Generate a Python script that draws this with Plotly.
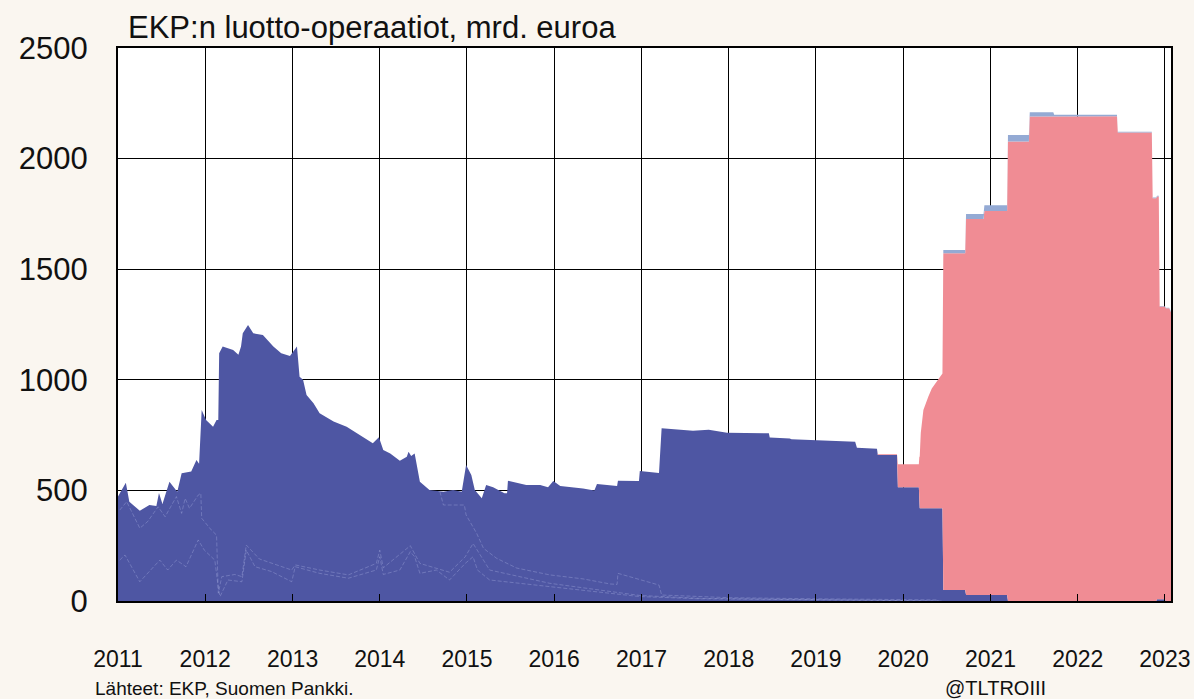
import numpy as np
import pandas as pd
import plotly.graph_objects as go

# ---------------- data (decimal years, bn EUR) ----------------
# Other credit operations (MRO, LTRO, TLTRO I-II ...) - dark blue
t_blue = [2011.00, 2011.09, 2011.13, 2011.25, 2011.36, 2011.44, 2011.47, 2011.51, 2011.59, 2011.68,
          2011.73, 2011.84, 2011.90, 2011.93, 2011.96, 2012.01, 2012.09, 2012.13, 2012.15, 2012.16,
          2012.20, 2012.32, 2012.38, 2012.41, 2012.43, 2012.49, 2012.55, 2012.66, 2012.78, 2012.87,
          2012.97, 2013.01, 2013.05, 2013.08, 2013.12, 2013.16, 2013.24, 2013.31, 2013.47, 2013.62,
          2013.77, 2013.92, 2013.99, 2014.04, 2014.12, 2014.23, 2014.31, 2014.33, 2014.36, 2014.40,
          2014.46, 2014.57, 2014.73, 2014.84, 2014.94, 2014.99, 2015.05, 2015.09, 2015.17, 2015.22,
          2015.30, 2015.43, 2015.46, 2015.47, 2015.68, 2015.84, 2015.93, 2015.99, 2016.07, 2016.22,
          2016.33, 2016.46, 2016.49, 2016.72, 2016.73, 2016.95, 2016.97, 2016.98, 2017.20, 2017.23,
          2017.59, 2017.77, 2017.98, 2018.44, 2018.46, 2018.47, 2018.70, 2018.72, 2018.99, 2019.45,
          2019.47, 2019.70, 2019.71, 2019.93, 2019.94, 2020.18, 2020.19, 2020.45, 2020.46, 2020.71,
          2020.72, 2021.19, 2021.20, 2022.90, 2022.91, 2023.00, 2023.01, 2023.10]
blue = [472, 535, 449, 408, 434, 429, 488, 438, 539, 494,
        577, 585, 637, 620, 863, 818, 788, 818, 818, 1120,
        1150, 1135, 1113, 1150, 1210, 1248, 1210, 1203, 1150, 1120,
        1108, 1128, 1150, 1014, 1000, 931, 894, 849, 811, 788,
        750, 713, 740, 683, 667, 634, 652, 675, 655, 667,
        539, 502, 494, 502, 494, 615, 570, 502, 464, 524,
        514, 487, 487, 544, 524, 524, 514, 542, 520, 514,
        509, 499, 529, 520, 544, 542, 542, 588, 579, 781,
        770, 774, 761, 758, 758, 739, 735, 731, 728, 720,
        693, 688, 660, 660, 514, 514, 419, 419, 50, 50,
        27, 27, 0, 0, 8, 8, 0, 0]

# TLTRO III - pink
t_tltro3 = [2011.00, 2019.70, 2019.71, 2019.93, 2019.94, 2020.18, 2020.186, 2020.202, 2020.232, 2020.289,
            2020.328, 2020.385, 2020.443, 2020.45, 2020.46, 2020.71, 2020.72, 2020.92, 2020.93, 2021.19,
            2021.20, 2021.44, 2021.45, 2021.72, 2021.73, 2022.45, 2022.46, 2022.85, 2022.86, 2022.93,
            2022.94, 2023.05, 2023.10]
tltro3 = [0, 0, 3, 3, 104, 104, 196, 340, 444, 505,
          542, 573, 610, 610, 1522, 1522, 1700, 1700, 1736, 1736,
          2077, 2077, 2190, 2190, 2192, 2192, 2118, 2118, 1821, 1821,
          1323, 1323, 1280]

# Other (top layer) - light blue
t_other = [2011.00, 2020.45, 2020.46, 2020.71, 2020.72, 2020.92, 2020.93, 2021.19, 2021.20, 2021.44,
           2021.45, 2021.72, 2021.73, 2022.45, 2022.46, 2023.10]
other = [0, 0, 15, 15, 23, 23, 26, 26, 30, 30,
         19, 19, 6, 6, 3, 3]

# faint boundary lines inside the blue area
t_line_low = [2011.02, 2011.08, 2011.25, 2011.34, 2011.48, 2011.57, 2011.67, 2011.78, 2011.92, 2011.99,
              2012.11, 2012.15, 2012.17, 2012.26, 2012.42, 2012.47, 2012.57, 2012.76, 2012.99, 2013.03,
              2013.31, 2013.64, 2013.96, 2014.00, 2014.04, 2014.23, 2014.35, 2014.40, 2014.46, 2014.65,
              2014.80, 2014.98, 2015.07, 2015.12, 2015.26, 2015.95, 2016.64, 2016.98, 2017.67, 2018.82,
              2019.96, 2020.44]
line_low = [185, 208, 87, 125, 185, 140, 185, 155, 276, 230,
            185, 60, 20, 95, 87, 230, 155, 133, 87, 155,
            125, 103, 140, 200, 120, 140, 223, 200, 125, 140,
            95, 170, 200, 140, 95, 65, 35, 20, 10, 5,
            3, 0]
t_line_mid = [2011.02, 2011.10, 2011.25, 2011.34, 2011.46, 2011.54, 2011.67, 2011.73, 2011.77, 2011.82,
              2011.92, 2011.95, 2011.96, 2012.07, 2012.13, 2012.15, 2012.19, 2012.34, 2012.42, 2012.47,
              2012.62, 2012.99, 2013.03, 2013.31, 2013.64, 2013.96, 2014.00, 2014.04, 2014.35, 2014.46,
              2014.80, 2014.98, 2015.07, 2015.26, 2015.95, 2016.64, 2016.98, 2017.67, 2018.82, 2020.44]
line_mid = [411, 449, 329, 359, 426, 381, 472, 396, 464, 419,
            479, 487, 374, 321, 298, 35, 110, 120, 110, 253,
            190, 140, 163, 140, 118, 170, 230, 150, 250, 170,
            130, 200, 260, 140, 80, 45, 25, 12, 6, 0]
t_line_high = [2014.69, 2014.73, 2014.97, 2014.99, 2015.11, 2015.19, 2015.34, 2015.57, 2015.95, 2016.33,
               2016.64, 2016.72, 2016.73, 2017.20, 2017.23, 2018.00, 2019.00, 2020.40]
line_high = [494, 434, 434, 389, 307, 238, 193, 149, 118, 100,
             77, 75, 125, 72, 27, 15, 10, 5]

year_ticks = list(range(2011, 2024))
y_ticks = [0, 500, 1000, 1500, 2000, 2500]

COL_BG = "#FAF6F0"
COL_BLUE = "#4E56A3"
COL_PINK = "#F08C94"
COL_LBLUE = "#94AAD4"
COL_INNER = "rgba(190,196,238,0.38)"
FONT = "Liberation Sans, Arial, sans-serif"


def to_dt(years):
    out = []
    for y in years:
        yr = int(np.floor(y))
        start = pd.Timestamp(year=yr, month=1, day=1)
        end = pd.Timestamp(year=yr + 1, month=1, day=1)
        out.append(start + (end - start) * (y - yr))
    return out


# common grid for stacking
grid = np.unique(np.concatenate([t_blue, t_tltro3, t_other]))
grid = grid[(grid >= 2011.0) & (grid <= 2023.10)]
b = np.interp(grid, t_blue, blue)
p = np.interp(grid, t_tltro3, tltro3)
o = np.interp(grid, t_other, other)
c1 = b
c2 = b + p
c3 = b + p + o
xg = to_dt(grid)

fig = go.Figure()
fig.add_trace(go.Scatter(x=xg, y=c1, mode="lines", line=dict(width=0, color=COL_BLUE),
                         fill="tozeroy", fillcolor=COL_BLUE, hoverinfo="skip", showlegend=False))
fig.add_trace(go.Scatter(x=xg, y=c2, mode="lines", line=dict(width=0, color=COL_PINK),
                         fill="tonexty", fillcolor=COL_PINK, hoverinfo="skip", showlegend=False))
fig.add_trace(go.Scatter(x=xg, y=c3, mode="lines", line=dict(width=0, color=COL_LBLUE),
                         fill="tonexty", fillcolor=COL_LBLUE, hoverinfo="skip", showlegend=False))

for tt, vv in [(t_line_low, line_low), (t_line_mid, line_mid), (t_line_high, line_high)]:
    fig.add_trace(go.Scatter(x=to_dt(tt), y=vv, mode="lines",
                             line=dict(width=0.8, color=COL_INNER, dash="4px,2px"),
                             hoverinfo="skip", showlegend=False))

fig.update_layout(
    width=1194, height=699,
    paper_bgcolor=COL_BG, plot_bgcolor="white",
    margin=dict(l=118, r=23, t=48, b=98, autoexpand=False),
    font=dict(family=FONT, color="#111111"),
    title=dict(text="EKP:n luotto-operaatiot, mrd. euroa", x=128 / 1194, xanchor="left",
               y=1 - 27 / 699, yanchor="middle", xref="container", yref="container",
               pad=dict(l=0, r=0, t=0, b=0),
               font=dict(size=31, family=FONT, color="#111111")),
    showlegend=False,
)
fig.update_xaxes(
    type="date", automargin=False,
    range=[to_dt([2011.0])[0], to_dt([2023.07])[0]],
    tickvals=to_dt(year_ticks), ticktext=[str(y) for y in year_ticks],
    showgrid=True, gridcolor="#000000", gridwidth=1,
    showline=True, linecolor="#000000", linewidth=2, mirror=True,
    ticks="inside", ticklen=7, tickcolor="#000000", tickwidth=1,
    tickfont=dict(size=23, family=FONT, color="#111111"),
    ticklabelstandoff=36,
    zeroline=False,
)
fig.update_yaxes(
    range=[0, 2500], tickvals=y_ticks, ticktext=[str(v) for v in y_ticks],
    automargin=False,
    showgrid=True, gridcolor="#000000", gridwidth=1,
    showline=True, linecolor="#000000", linewidth=2, mirror=True,
    ticks="", tickfont=dict(size=31, family=FONT, color="#111111"),
    ticklabelstandoff=22,
    zeroline=False,
)
fig.add_annotation(text="Lähteet: EKP, Suomen Pankki.", xref="paper", yref="paper",
                   x=(93 - 118) / 1053, y=(601 - 688) / 553, xanchor="left", yanchor="middle",
                   showarrow=False, font=dict(size=19, family=FONT, color="#111111"))
fig.add_annotation(text="@TLTROIII", xref="paper", yref="paper",
                   x=(943 - 118) / 1053, y=(601 - 688) / 553, xanchor="left", yanchor="middle",
                   showarrow=False, font=dict(size=20, family=FONT, color="#111111"))

fig.write_html(
    "out.html",
    config={"displayModeBar": False},
    post_script="document.body.style.margin='0';document.body.style.background='" + COL_BG + "';",
)
